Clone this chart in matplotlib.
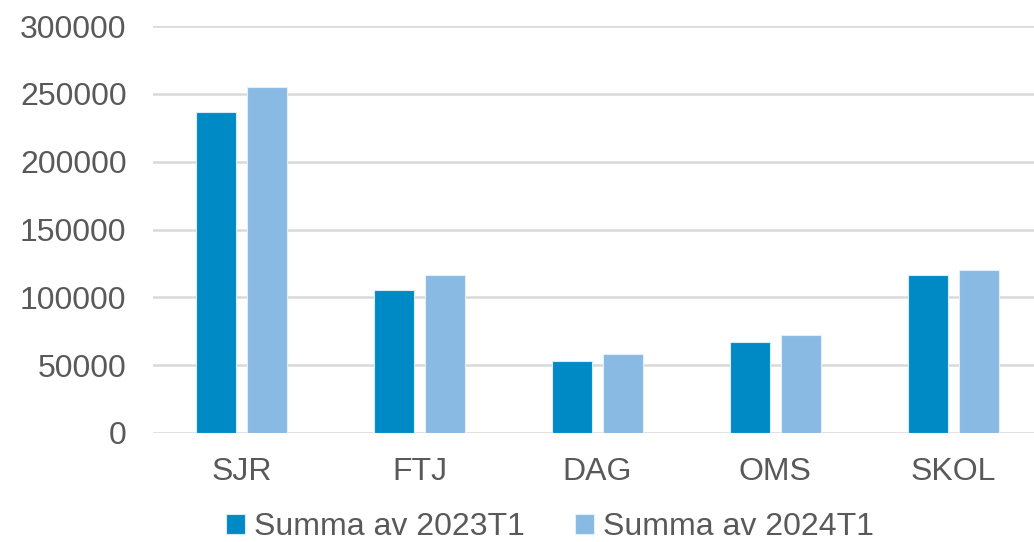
import matplotlib.pyplot as plt
import numpy as np

categories = ["SJR", "FTJ", "DAG", "OMS", "SKOL"]
summa_2023 = [236700, 105500, 52900, 66900, 116300]
summa_2024 = [255100, 116500, 58300, 72100, 120000]
series_labels = ["Summa av 2023T1", "Summa av 2024T1"]
y_ticks = [0, 50000, 100000, 150000, 200000, 250000, 300000]

plt.rcParams["font.family"] = ["Liberation Sans", "DejaVu Sans"]

W, H = 1034, 542
fig = plt.figure(figsize=(W / 100, H / 100), dpi=100)
ax = fig.add_axes([153 / W, 109 / H, (W - 153) / W, (516 - 109) / H])

x = np.arange(len(categories))
width = 0.225
offset = 0.143
b1 = ax.bar(x - offset, summa_2023, width, color="#008AC5", edgecolor="#d6ecf7", linewidth=0.8,
            label=series_labels[0], zorder=3)
b2 = ax.bar(x + offset, summa_2024, width, color="#88BAE3", edgecolor="#e3f0fa", linewidth=0.8,
            label=series_labels[1], zorder=3)

ax.set_xlim(-0.5, 4.5 - 8 / 177.8)
ax.set_ylim(0, 300000)
ax.set_yticks(y_ticks)
ax.set_yticklabels([str(v) for v in y_ticks])
ax.set_xticks(x)
ax.set_xticklabels(categories)
ax.grid(axis="y", color="#d9d9d9", linewidth=1.8, zorder=0)
ax.set_axisbelow(True)
for side in ["top", "right", "left", "bottom"]:
    ax.spines[side].set_visible(False)
ax.tick_params(axis="y", length=0, pad=19, labelsize=23, labelcolor="#595959")
ax.tick_params(axis="x", length=0, pad=17, labelsize=23, labelcolor="#595959")

fig.legend(handles=[b1, b2], loc="center", bbox_to_anchor=(550 / W, 15 / H), ncol=2, frameon=False,
           fontsize=23, labelcolor="#595959", handlelength=0.6, handleheight=0.6,
           handletextpad=0.3, columnspacing=1.55, borderpad=0)

fig.savefig("out.png", dpi=100)
